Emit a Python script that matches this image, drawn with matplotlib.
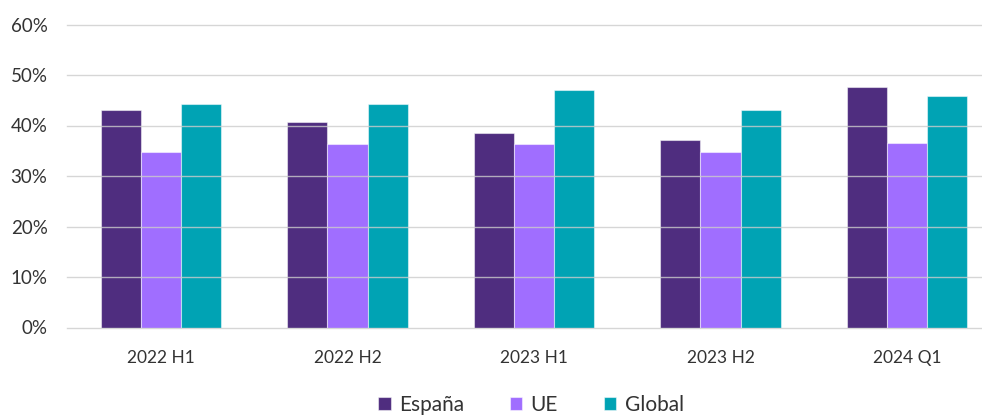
import numpy as np
import matplotlib.pyplot as plt
from matplotlib.ticker import PercentFormatter

periods = ["2022 H1", "2022 H2", "2023 H1", "2023 H2", "2024 Q1"]
espana = [0.431, 0.407, 0.386, 0.371, 0.477]
ue = [0.347, 0.364, 0.364, 0.347, 0.366]
global_ = [0.443, 0.443, 0.471, 0.431, 0.459]

colors = ["#4f2d7f", "#a06eff", "#00a3b4"]

plt.rcParams['font.family'] = ['Lato', 'DejaVu Sans']

fig = plt.figure(figsize=(9.82, 4.18), dpi=100)
ax = fig.add_axes([67 / 982, 1 - 327.5 / 418, 1 - 67 / 982, (327.5 - 24.5) / 418])

x = np.arange(len(periods))
w = 0.215
series = [("España", espana), ("UE", ue), ("Global", global_)]
for i, (name, vals) in enumerate(series):
    ax.bar(x + (i - 1) * w, vals, width=w, color=colors[i], label=name,
           edgecolor=(1, 1, 1, 0.5), linewidth=0.8, zorder=2)

ax.set_ylim(0, 0.6)
ax.set_xlim(-94 / 186.5, (982 - 161) / 186.5)
ax.yaxis.set_major_formatter(PercentFormatter(1.0, decimals=0))
ax.set_yticks(np.arange(0, 0.61, 0.1))
ax.set_xticks(x)
ax.set_xticklabels(periods)
ax.grid(axis="y", color="#cccccc", linewidth=1, alpha=0.8, zorder=3)
ax.set_axisbelow(False)
for s in ax.spines.values():
    s.set_visible(False)
ax.tick_params(axis="both", length=0, labelsize=12.5, colors="#333333")
ax.tick_params(axis="y", labelsize=13.5, pad=14)
ax.tick_params(axis="x", pad=16)
for gl in ax.get_ygridlines():
    gl.set_clip_on(False)

# legend sits at the very bottom edge, as in the source
fig.legend(loc="center", bbox_to_anchor=(531 / 982, 1 - 405 / 418), ncol=3,
           frameon=False, fontsize=15, handlelength=0.6, handleheight=0.6,
           handletextpad=0.4, columnspacing=2.2, labelcolor="#333333")

fig.savefig("out.png", dpi=100)
